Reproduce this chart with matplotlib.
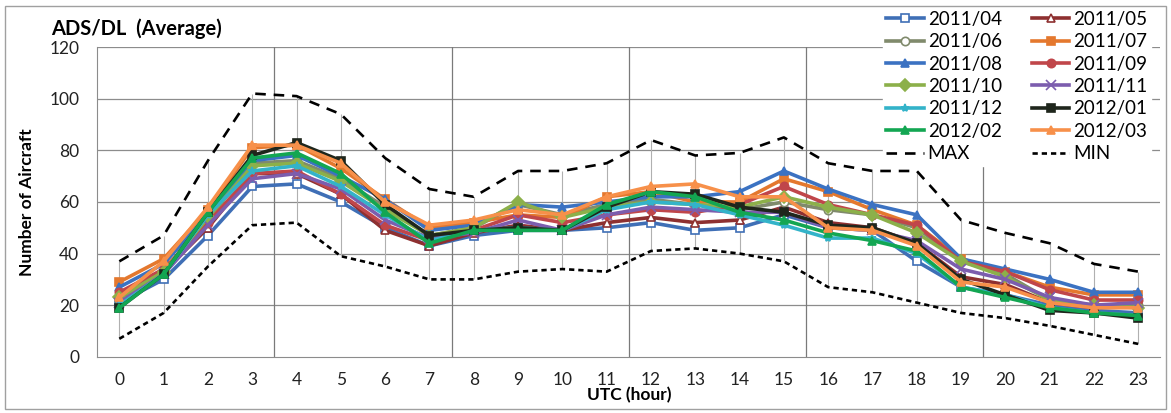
import numpy as np
import matplotlib
matplotlib.use("Agg")
import matplotlib.pyplot as plt
from matplotlib.patches import Rectangle

plt.rcParams['font.family'] = ['Lato', 'DejaVu Sans']

hours = list(range(24))

max_vals = [37, 47, 76, 102, 101, 94, 77, 65, 62, 72, 72, 75, 84, 78, 79, 85, 75, 72, 72, 53, 48, 44, 36, 33]
min_vals = [7, 17, 35, 51, 52, 39, 35, 30, 30, 33, 34, 33, 41, 42, 40, 37, 27, 25, 21, 17, 15, 12, 8.5, 5]

m2011_04 = [21, 30, 47, 66, 67, 60, 50, 43, 47, 49, 49, 50, 52, 49, 50, 55, 50, 49, 37, 27, 24, 20, 18, 17]
m2011_05 = [24, 33, 50, 71, 71, 63, 49, 43, 48, 51, 49, 52, 54, 52, 53, 58, 52, 50, 44, 31, 28, 21, 19, 21]
m2011_06 = [22, 33, 53, 75, 76, 69, 58, 47, 50, 59, 55, 59, 61, 59, 57, 60, 57, 55, 50, 37, 32, 22, 20, 20]
m2011_07 = [29, 38, 57, 81, 82, 73, 61, 50, 52, 55, 54, 62, 64, 60, 60, 69, 64, 57, 51, 38, 33, 27, 24, 24]
m2011_08 = [27, 36, 55, 76, 78, 70, 61, 49, 51, 59, 58, 60, 62, 62, 64, 72, 65, 59, 55, 38, 34, 30, 25, 25]
m2011_09 = [25, 34, 52, 71, 72, 63, 51, 45, 49, 55, 52, 55, 57, 56, 59, 66, 59, 55, 51, 37, 33, 26, 22, 22]
m2011_10 = [23, 33, 54, 74, 75, 68, 57, 47, 50, 60, 54, 58, 60, 59, 58, 62, 58, 55, 48, 37, 31, 22, 20, 19]
m2011_11 = [21, 32, 51, 69, 71, 65, 53, 46, 48, 53, 49, 55, 58, 57, 56, 56, 50, 49, 45, 34, 30, 23, 20, 21]
m2011_12 = [20, 32, 55, 72, 74, 66, 55, 45, 49, 50, 49, 57, 60, 59, 55, 51, 46, 46, 40, 27, 24, 19, 17, 16]
m2012_01 = [19, 32, 56, 78, 83, 76, 59, 47, 49, 50, 49, 58, 64, 63, 58, 56, 51, 50, 44, 30, 24, 18, 17, 15]
m2012_02 = [19, 32, 56, 77, 79, 71, 56, 44, 49, 49, 49, 59, 64, 62, 56, 53, 48, 45, 41, 27, 23, 19, 17, 16]
m2012_03 = [23, 37, 58, 82, 82, 75, 60, 51, 53, 57, 55, 62, 66, 67, 62, 62, 50, 49, 43, 29, 27, 21, 19, 19]

labels = ['2011/04', '2011/05', '2011/06', '2011/07', '2011/08', '2011/09',
          '2011/10', '2011/11', '2011/12', '2012/01', '2012/02', '2012/03']
series = [m2011_04, m2011_05, m2011_06, m2011_07, m2011_08, m2011_09,
          m2011_10, m2011_11, m2011_12, m2012_01, m2012_02, m2012_03]
colors = ['#3F6FB6', '#8E3030', '#808A6C', '#E4782E', '#3B72C2', '#C0464A',
          '#8CB04A', '#7C5DAE', '#33B3C9', '#1F261C', '#13A652', '#F7904A']
markers = ['s', '^', 'o', 's', '^', 'o', 'D', 'x', '*', 's', '^', '^']
open_marker = [True, True, True, False, False, False, False, False, False, False, False, False]

fig = plt.figure(figsize=(11.71, 4.13), dpi=100)
ax = fig.add_axes([0.083, 0.136, 0.908, 0.750])

# high-low lines
ax.vlines(hours, min_vals, max_vals, color='#b0b0b0', lw=0.8, zorder=1)

handles = []
for s, lab, c, mk, op in zip(series, labels, colors, markers, open_marker):
    h, = ax.plot(hours, s, color=c, lw=2.6, marker=mk, ms=6 if mk != 'x' else 6.5,
                 mfc='white' if op else c, mec=c, mew=1.2, label=lab, zorder=3)
    handles.append(h)

hmax, = ax.plot(hours, max_vals, color='black', lw=1.9, ls=(0, (4, 3)), label='MAX', zorder=2)
hmin, = ax.plot(hours, min_vals, color='black', lw=1.9, ls=(0, (2, 1.5)), label='MIN', zorder=2)

ax.set_xlim(-0.5, 23.5)
ax.set_ylim(0, 120)
ax.set_xticks(hours)
ax.set_yticks(range(0, 121, 20))
ax.tick_params(length=0, labelsize=12.5, colors='#222222')
ax.tick_params(axis='x', pad=11)
ax.tick_params(axis='y', pad=13)
for y in range(20, 121, 20):
    ax.axhline(y, color='#8c8c8c', lw=0.9, zorder=0)
for x in [3.5, 7.5, 11.5, 15.5, 19.5]:
    ax.axvline(x, color='#7a7a7a', lw=0.9, zorder=0)
for sp in ['top', 'right']:
    ax.spines[sp].set_visible(False)
ax.spines['left'].set_color('#8c8c8c')
ax.spines['bottom'].set_color('#8c8c8c')

ax.set_xlabel('UTC (hour)', fontsize=12.5, fontweight='bold', labelpad=-1)
ax.set_ylabel('Number of Aircraft', fontsize=12.5, fontweight='bold', labelpad=10)
fig.text(0.044, 0.915, 'ADS/DL  (Average)', fontsize=14.5, fontweight='bold')

order = [0, 2, 4, 6, 8, 10, 12, 1, 3, 5, 7, 9, 11, 13]
allh = handles + [hmax, hmin]
leg = ax.legend([allh[i] for i in order], [allh[i].get_label() for i in order],
                ncol=2, loc='upper right', bbox_to_anchor=(1.0, 1.16),
                frameon=True, framealpha=1, edgecolor='white', fontsize=13.5,
                handlelength=2.0, handletextpad=0.2, columnspacing=1.6,
                labelspacing=0.29, borderpad=0.2)
leg.set_zorder(5)

fig.add_artist(Rectangle((0.004, 0.01), 0.992, 0.975, transform=fig.transFigure,
                         fill=False, edgecolor='#a0a0a0', lw=1))

fig.savefig('out.png', dpi=100)
